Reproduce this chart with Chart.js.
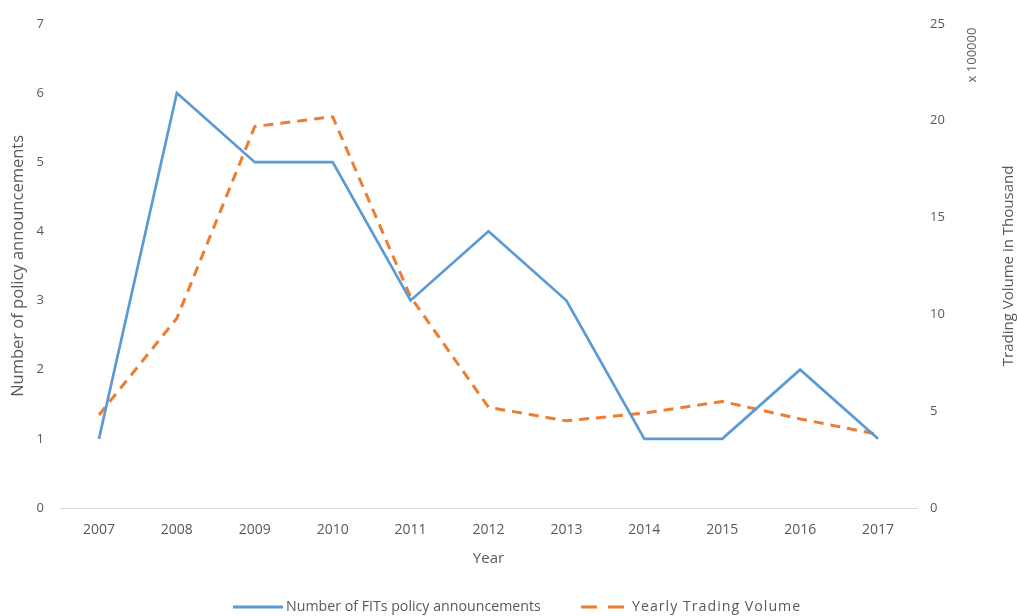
<!DOCTYPE html>
<html lang="en">
<head>
<meta charset="UTF-8">
<title>FITs policy announcements and trading volume</title>
<script src="https://cdn.jsdelivr.net/npm/chart.js"></script>
<style>
  body { margin: 0; background: #fff; }
  #wrap { width: 1017px; height: 616px; }
</style>
</head>
<body>
<div id="wrap"><canvas id="chart" width="1017" height="616"></canvas></div>
<script>
const years = ['2007', '2008', '2009', '2010', '2011', '2012', '2013', '2014', '2015', '2016', '2017'];
const announcements = [1, 6, 5, 5, 3, 4, 3, 1, 1, 2, 1];
// trading volume, in units of 100000
const tradingVolume = [4.8, 9.8, 19.7, 20.2, 10.9, 5.2, 4.5, 4.9, 5.5, 4.6, 3.8];

const BLUE = '#5b9bd5';
const ORANGE = '#ed7d31';
const GREY = '#595959';
const FONT = "'Open Sans', sans-serif";

function vertText(ctx, text, x, y, size) {
  ctx.save();
  ctx.fillStyle = GREY;
  ctx.font = size + 'px ' + FONT;
  ctx.translate(x, y);
  ctx.rotate(-Math.PI / 2);
  ctx.textAlign = 'center';
  ctx.textBaseline = 'middle';
  ctx.fillText(text, 0, 0);
  ctx.restore();
}

// right-hand axis title (reads bottom to top), unit note and the legend
const extras = {
  id: 'extras',
  afterDraw(chart) {
    const ctx = chart.ctx;
    const area = chart.chartArea;
    vertText(ctx, 'x 100000', 972, 55, 13);
    vertText(ctx, 'Trading Volume in Thousand', 1009, (area.top + area.bottom) / 2, 15);

    const y = 607;
    ctx.save();
    ctx.textBaseline = 'middle';
    ctx.fillStyle = GREY;
    ctx.font = '14.2px ' + FONT;
    ctx.lineWidth = 3;
    ctx.strokeStyle = BLUE;
    ctx.beginPath();
    ctx.moveTo(233, y);
    ctx.lineTo(283, y);
    ctx.stroke();
    ctx.fillText(chart.data.datasets[0].label, 286, y);
    ctx.strokeStyle = ORANGE;
    ctx.setLineDash([16, 11]);
    ctx.beginPath();
    ctx.moveTo(581, y);
    ctx.lineTo(625, y);
    ctx.stroke();
    ctx.setLineDash([]);
    ctx.letterSpacing = '1px';
    ctx.fillText(chart.data.datasets[1].label, 632, y);
    ctx.restore();
  }
};

new Chart(document.getElementById('chart'), {
  type: 'line',
  data: {
    labels: years,
    datasets: [{
      label: 'Number of FITs policy announcements',
      data: announcements,
      yAxisID: 'y',
      borderColor: BLUE,
      borderWidth: 2.7,
      pointRadius: 0,
      tension: 0
    }, {
      label: 'Yearly Trading Volume',
      data: tradingVolume,
      yAxisID: 'y1',
      borderColor: ORANGE,
      borderWidth: 3,
      borderDash: [10, 7],
      borderJoinStyle: 'round',
      pointRadius: 0,
      tension: 0
    }]
  },
  options: {
    responsive: false,
    animation: false,
    layout: { padding: { top: 10, left: 0, right: 0, bottom: 0 } },
    plugins: { legend: { display: false }, tooltip: { enabled: false } },
    scales: {
      x: {
        offset: true,
        grid: { display: false, drawTicks: false },
        border: { display: true, color: '#d9d9d9', width: 1 },
        ticks: { color: GREY, font: { family: FONT, size: 14 }, padding: 14, maxRotation: 0 },
        title: { display: true, text: 'Year', color: GREY, font: { family: FONT, size: 15 }, padding: { top: 8, bottom: 48 } },
        afterFit(s) { s.height = 108; }
      },
      y: {
        position: 'left',
        min: 0, max: 7,
        ticks: { stepSize: 1, color: GREY, font: { family: FONT, size: 13 }, padding: 16 },
        grid: { display: false, drawTicks: false },
        border: { display: false },
        title: { display: true, text: 'Number of policy announcements', color: GREY, font: { family: FONT, size: 16.5 }, padding: { top: 8, bottom: 0 } },
        afterFit(s) { s.width = 60; }
      },
      y1: {
        position: 'right',
        min: 0, max: 25,
        ticks: { stepSize: 5, color: GREY, font: { family: FONT, size: 13 }, padding: 13 },
        grid: { display: false, drawTicks: false },
        border: { display: false },
        afterFit(s) { s.width = 100; }
      }
    }
  },
  plugins: [extras]
});
</script>
</body>
</html>
